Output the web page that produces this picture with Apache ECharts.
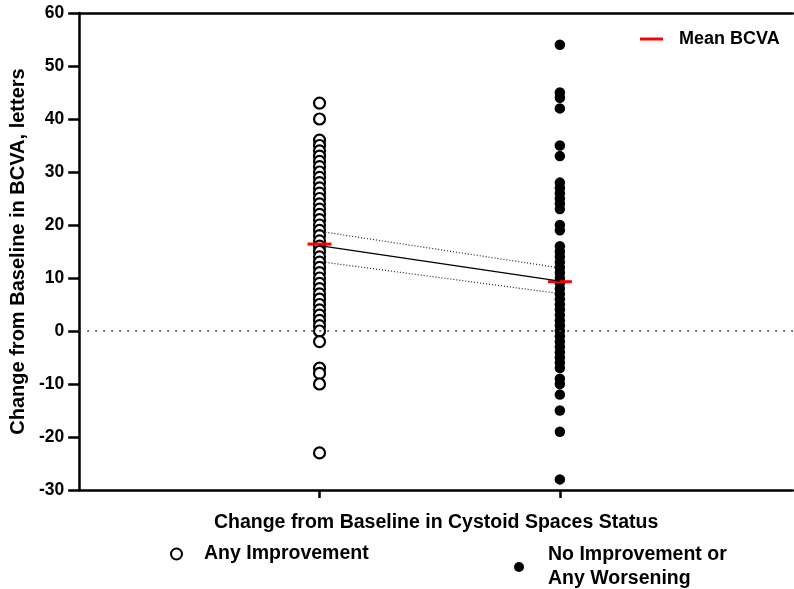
<!DOCTYPE html>
<html>
<head>
<meta charset="utf-8">
<script src="https://cdn.jsdelivr.net/npm/echarts@6/dist/echarts.min.js"></script>
<style>
html,body{margin:0;padding:0;background:#fff;}
#chart{width:794px;height:589px;}
</style>
</head>
<body>
<div id="chart"></div>
<script>
// ---- data ----
const categories = ['Any Improvement', 'No Improvement or\nAny Worsening'];
const categoryX = [1, 2];
const improvementValues = [43, 40, 36, 35, 34, 33, 32, 31, 30, 29, 28, 27, 26, 25, 24, 23, 22, 21, 20, 19, 18, 17, 16, 15, 14, 13, 12, 11, 10, 9, 8, 7, 6, 5, 4, 3, 2, 1, 0, -2, -7, -8, -10, -23];
const noImprovementValues = [54, 45, 44, 42, 35, 33, 28, 27, 26, 25, 24, 23, 20, 19, 16, 15, 14, 13, 12, 11, 10, 9, 8, 7, 6, 5, 4, 3, 2, 1, 0, -1, -2, -3, -4, -5, -6, -7, -9, -10, -12, -15, -19, -28];
const meanBCVA = [16.4, 9.3];
const fitLine = [16.1, 9.4];
const ciUpper = [18.8, 11.9];
const ciLower = [13.1, 7.05];
const yMin = -30, yMax = 60, yInterval = 10;
const meanLabel = 'Mean BCVA';
const xTitle = 'Change from Baseline in Cystoid Spaces Status';
const yTitle = 'Change from Baseline in BCVA, letters';

const FONT = '"Liberation Sans", Arial, Helvetica, sans-serif';
const chart = echarts.init(document.getElementById('chart'));

const toPts = (vals) => vals.map((v, i) => [categoryX[i], v]);

const option = {
  animation: false,
  backgroundColor: '#fff',
  textStyle: { fontFamily: FONT },
  grid: { left: 79, right: 1, top: 13, bottom: 99 },
  xAxis: [{
    type: 'value', min: 0, max: 2.97,
    name: xTitle, nameLocation: 'middle', nameGap: 23,
    nameTextStyle: { fontFamily: FONT, fontWeight: 'bold', fontSize: 19.5, color: '#000', verticalAlign: 'top' },
    axisLine: { show: true, onZero: false, lineStyle: { color: '#000', width: 2.5 } },
    axisTick: { show: true, customValues: categoryX, length: 8, lineStyle: { color: '#000', width: 2.5 } },
    axisLabel: { show: false },
    splitLine: { show: false }
  }, {
    type: 'value', min: 0, max: 2.97, position: 'top',
    axisLine: { show: true, onZero: false, lineStyle: { color: '#000', width: 2.5 } },
    axisTick: { show: false }, axisLabel: { show: false }, splitLine: { show: false }
  }],
  yAxis: {
    type: 'value', min: yMin, max: yMax, interval: yInterval,
    name: yTitle, nameLocation: 'middle', nameGap: 45, nameRotate: 90,
    nameTextStyle: { fontFamily: FONT, fontWeight: 'bold', fontSize: 20, color: '#000' },
    axisLine: { show: true, lineStyle: { color: '#000', width: 2.5 } },
    axisTick: { show: true, length: 11, lineStyle: { color: '#000', width: 2.5 } },
    axisLabel: { fontFamily: FONT, fontWeight: 'bold', fontSize: 17.5, color: '#000', margin: 15 },
    splitLine: { show: false }
  },
  legend: [{
    data: [{ name: meanLabel, icon: 'rect' }],
    left: 635, top: 25, itemWidth: 23, itemHeight: 3, selectedMode: false,
    textStyle: { fontFamily: FONT, fontWeight: 'bold', fontSize: 18, color: '#000', padding: [0, 0, 0, 11] }
  }, {
    data: [{ name: categories[0], icon: 'circle' }],
    left: 165, top: 539, itemWidth: 11, itemHeight: 11, selectedMode: false,
    itemStyle: { color: '#fff', borderColor: '#000', borderWidth: 2 },
    textStyle: { fontFamily: FONT, fontWeight: 'bold', fontSize: 19.5, color: '#000', padding: [0, 0, 0, 17] }
  }, {
    data: [{ name: categories[1], icon: 'circle' }],
    left: 509, top: 538, itemWidth: 10, itemHeight: 10, selectedMode: false,
    textStyle: { fontFamily: FONT, fontWeight: 'bold', fontSize: 19.5, color: '#000', lineHeight: 24, padding: [0, 0, 0, 19] }
  }],
  series: [
    {
      name: 'zero', type: 'line', data: [], silent: true,
      markLine: {
        silent: true, symbol: 'none', label: { show: false },
        lineStyle: { color: '#444', width: 1.5, type: [2, 6] },
        data: [{ yAxis: 0 }]
      }
    },
    {
      name: 'CI upper', type: 'line', data: toPts(ciUpper), symbol: 'none', silent: true,
      lineStyle: { color: '#222', width: 1.2, type: [1, 2] }
    },
    {
      name: 'CI lower', type: 'line', data: toPts(ciLower), symbol: 'none', silent: true,
      lineStyle: { color: '#222', width: 1.2, type: [1, 2] }
    },
    {
      name: 'fit', type: 'line', data: toPts(fitLine), symbol: 'none', silent: true,
      lineStyle: { color: '#000', width: 1.2 }
    },
    {
      name: categories[0], type: 'scatter', symbol: 'circle', symbolSize: 11,
      data: improvementValues.map(v => [categoryX[0], v]),
      itemStyle: { color: '#fff', borderColor: '#000', borderWidth: 2.2, opacity: 1 }
    },
    {
      name: categories[1], type: 'scatter', symbol: 'circle', symbolSize: 10.5,
      data: noImprovementValues.map(v => [categoryX[1], v]),
      itemStyle: { color: '#000', opacity: 1 }
    },
    {
      name: meanLabel, type: 'scatter', symbol: 'rect', symbolSize: [24, 3],
      data: toPts(meanBCVA),
      itemStyle: { color: '#ff0000', opacity: 1 }
    }
  ]
};
chart.setOption(option);
</script>
</body>
</html>
